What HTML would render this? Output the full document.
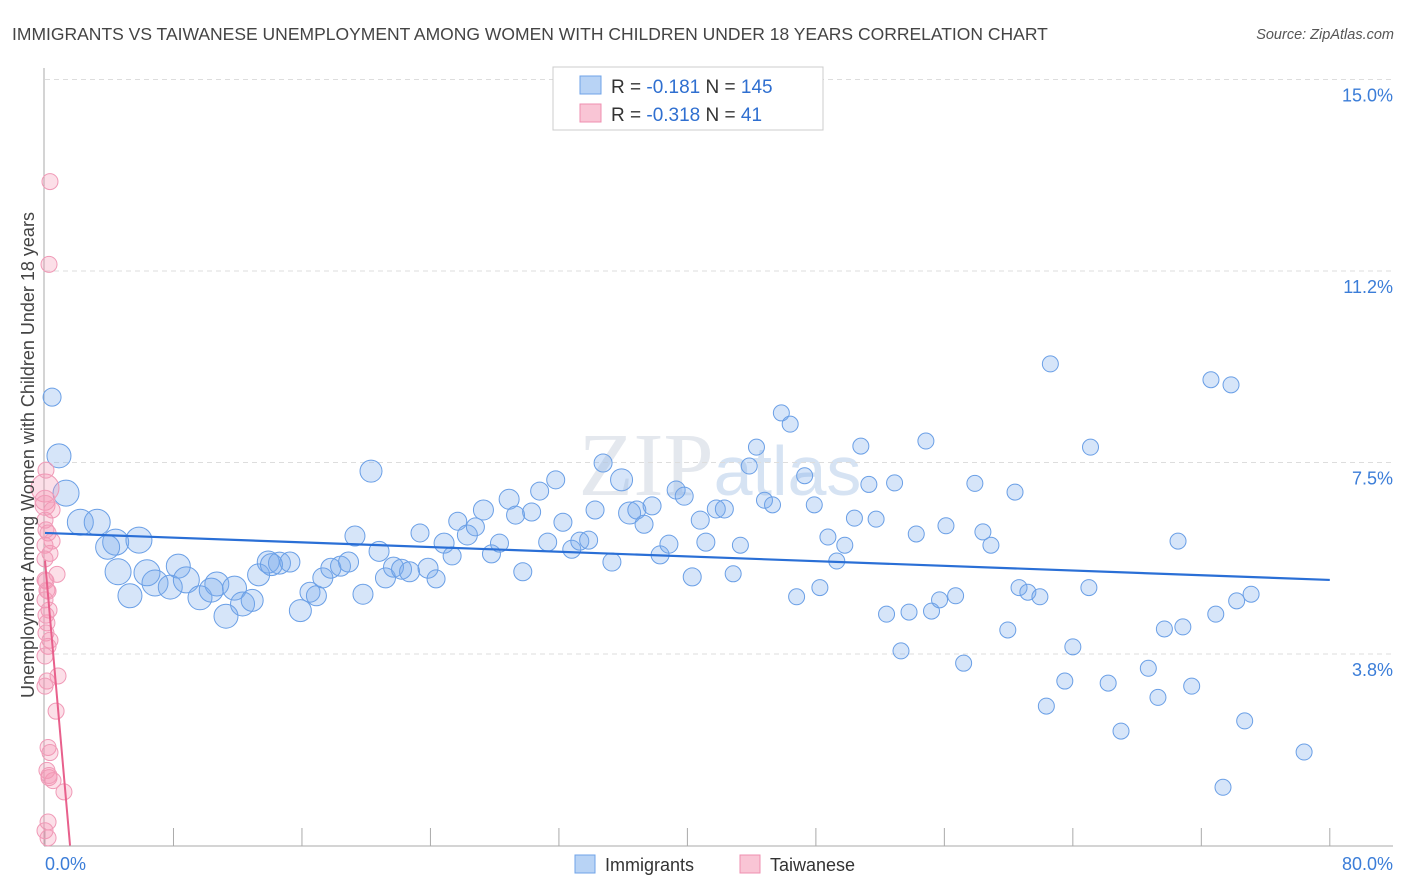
<!DOCTYPE html>
<html><head><meta charset="utf-8">
<style>
body{margin:0;background:#fff;font-family:"Liberation Sans",sans-serif;}
svg{display:block}
</style></head>
<body>
<svg id="chart" width="1406" height="892">
<text x="12" y="40" font-size="17.5" fill="#444">IMMIGRANTS VS TAIWANESE UNEMPLOYMENT AMONG WOMEN WITH CHILDREN UNDER 18 YEARS CORRELATION CHART</text>
<text x="1394" y="39" font-size="14.5" fill="#555" font-style="italic" text-anchor="end">Source: ZipAtlas.com</text>
<text x="720" y="495" font-size="90" fill="#e4e8ee" text-anchor="middle" font-family="Liberation Serif,serif">ZIP<tspan fill="#d6e3f3" font-family="Liberation Sans,sans-serif" font-size="70">atlas</tspan></text>
<g id="grid"></g>
<g id="axes"></g>
<g id="marks"></g>
<text transform="translate(34,455) rotate(-90)" font-size="18" fill="#444" text-anchor="middle">Unemployment Among Women with Children Under 18 years</text>
<g>
<rect x="553" y="67" width="270" height="63" fill="#fff" stroke="#ccc"/>
<rect x="580" y="76" width="21" height="18" fill="#b8d3f5" stroke="#6fa3e8"/>
<rect x="580" y="104" width="21" height="18" fill="#f9c5d5" stroke="#ef8fb0"/>
<text x="611" y="93" font-size="19" fill="#333">R = <tspan fill="#2f6fd0">-0.181</tspan>   N = <tspan fill="#2f6fd0">145</tspan></text>
<text x="611" y="121" font-size="19" fill="#333">R = <tspan fill="#2f6fd0">-0.318</tspan>   N =   <tspan fill="#2f6fd0"> 41</tspan></text>
</g>
<g>
<rect x="575" y="855" width="20" height="18" fill="#b8d3f5" stroke="#6fa3e8"/>
<text x="605" y="871" font-size="18" fill="#333">Immigrants</text>
<rect x="740" y="855" width="20" height="18" fill="#f9c5d5" stroke="#ef8fb0"/>
<text x="770" y="871" font-size="18" fill="#333">Taiwanese</text>
</g>
</svg>
<script>
const yTicks=[3.75,7.5,11.25,15];
const yTickLabels=["3.8%","7.5%","11.2%","15.0%"];
const xTicks=[0,8,16,24,32,40,48,56,64,72,80];
const xEndLabels=["0.0%","80.0%"];
const blueX=[0.44,0.87,1.31,2.2,3.25,4.4,3.9,5.85,4.55,5.29,6.35,6.85,7.8,8.3,8.8,9.65,10.7,10.35,11.27,11.8,12.3,12.9,13.3,13.9,14.6,15.25,14.1,15.9,16.5,16.9,17.3,17.8,18.4,18.9,19.3,19.8,20.3,20.8,21.2,21.7,22.2,22.7,23.35,23.85,24.35,24.85,25.35,25.7,26.3,26.8,27.3,27.8,28.3,28.9,29.3,29.75,30.3,30.8,31.3,31.8,32.25,32.8,33.3,33.85,34.25,34.75,35.3,35.9,36.4,36.85,37.3,37.8,38.3,38.85,39.3,39.8,40.3,40.8,41.15,41.8,42.3,42.85,43.3,43.85,44.3,44.8,45.3,45.85,46.4,46.8,47.3,47.9,48.25,48.75,49.3,49.8,50.4,50.8,51.3,51.75,52.4,52.9,53.3,53.8,54.25,54.85,55.2,55.7,56.1,56.7,57.2,57.9,58.4,58.9,59.95,60.4,60.65,61.2,61.95,62.35,62.6,63.5,64.0,65.0,65.1,66.2,67.0,68.7,69.3,69.7,70.55,70.85,71.4,72.6,72.9,73.35,73.85,74.2,74.7,75.1,78.4];
const blueY=[8.78,7.63,6.9,6.33,6.33,5.94,5.84,5.98,5.36,4.89,5.34,5.14,5.06,5.47,5.2,4.85,5.12,5.0,4.49,5.04,4.73,4.8,5.3,5.55,5.53,5.55,5.5,4.6,4.96,4.89,5.24,5.43,5.47,5.55,6.06,4.92,7.33,5.76,5.24,5.45,5.41,5.36,6.12,5.43,5.22,5.92,5.67,6.35,6.08,6.24,6.57,5.71,5.92,6.78,6.47,5.36,6.53,6.94,5.94,7.16,6.33,5.8,5.96,5.98,6.57,7.49,5.55,7.16,6.51,6.57,6.29,6.65,5.69,5.9,6.96,6.84,5.26,6.37,5.94,6.59,6.59,5.32,5.88,7.43,7.8,6.76,6.67,8.47,8.25,4.87,7.24,6.67,5.05,6.04,5.57,5.88,6.41,7.82,7.07,6.39,4.53,7.1,3.81,4.57,6.1,7.92,4.59,4.81,6.26,4.89,3.57,7.09,6.14,5.88,4.22,6.92,5.05,4.96,4.87,2.73,9.43,3.22,3.89,5.05,7.8,3.18,2.24,3.47,2.9,4.24,5.96,4.28,3.12,9.12,4.53,1.14,9.02,4.79,2.44,4.92,1.83];
const blueR=[9,12,13,13,13,13,12,13,13,12,13,13,12,12,13,12,12,12,12,12,12,11,11,11,11,10,11,11,10,10,10,10,10,10,10,10,11,10,10,10,10,10,9,10,9,10,9,9,10,9,10,9,9,10,9,9,9,9,9,9,9,9,9,9,9,9,9,11,11,9,9,9,9,9,9,9,9,9,9,9,9,8,8,8,8,8,8,8,8,8,8,8,8,8,8,8,8,8,8,8,8,8,8,8,8,8,8,8,8,8,8,8,8,8,8,8,8,8,8,8,8,8,8,8,8,8,8,8,8,8,8,8,8,8,8,8,8,8,8,8,8];
const pinkX=[0.31,0.25,0,0,0.06,0.19,0,0.31,0.44,0.75,0.06,0.12,0,0.25,0.12,0.06,0.31,0.19,0.81,0.12,0.69,0.19,0.31,0.25,0.5,1.18,0.19,0.19,0,0,0.06,0,0,0.12,0,0,0.44,0,0.06,0.19,0.25];
const pinkY=[13.0,11.38,7.0,6.76,6.18,6.12,5.88,5.72,5.96,5.31,5.18,5.0,4.81,4.61,4.36,4.16,4.02,3.9,3.32,3.22,2.63,1.92,1.82,1.33,1.27,1.05,0.46,0.15,6.37,5.61,4.51,3.71,3.12,1.47,0.29,6.66,6.57,5.2,7.35,4.98,1.37];
const pinkR=[8,8,14,10,8,8,8,8,8,8,8,8,8,8,8,8,8,8,8,8,8,8,8,8,8,8,8,8,8,8,8,8,8,8,8,10,8,8,8,8,8];
const blueTrend=[6.12,5.2];
const pinkTrend=[5.58,-3.58];
const X=v=>45+v*16.06;
const Y=v=>845.5-v*51.07;
const NS="http://www.w3.org/2000/svg";
function mk(tag,attrs,parent){const e=document.createElementNS(NS,tag);for(const k in attrs)e.setAttribute(k,attrs[k]);document.getElementById(parent).appendChild(e);return e;}
yTicks.forEach((t,i)=>{
 const l=mk('line',{x1:45,x2:1393,y1:Y(t),y2:Y(t),stroke:'#ddd','stroke-dasharray':'5,4'},'grid');
 
 
 const tx=mk('text',{x:1393,y:Y(t)+22,'font-size':18,fill:'#3b7dd8','text-anchor':'end'},'grid');
 tx.textContent=yTickLabels[i];
 
 
});
const ya=mk('line',{x1:44,x2:44,y1:68,y2:846,stroke:'#aaa'},'axes');


const xa=mk('line',{x1:44,x2:1393,y1:846,y2:846,stroke:'#aaa'},'axes');


xTicks.forEach(t=>{
 const l=mk('line',{x1:X(t),x2:X(t),y1:828,y2:846,stroke:'#aaa'},'axes');
 
 
});
const xl0=mk('text',{x:45,y:870,'font-size':18,fill:'#3b7dd8'},'axes');
xl0.textContent=xEndLabels[0];


const xl1=mk('text',{x:1393,y:870,'font-size':18,fill:'#3b7dd8','text-anchor':'end'},'axes');
xl1.textContent=xEndLabels[1];


blueX.forEach((v,i)=>{
 const c=mk('circle',{cx:X(v),cy:Y(blueY[i]),r:blueR[i],fill:'rgba(120,170,235,0.3)',stroke:'#6a9fe6','stroke-width':1},'marks');
 
 
});
pinkX.forEach((v,i)=>{
 const c=mk('circle',{cx:X(v),cy:Y(pinkY[i]),r:pinkR[i],fill:'rgba(244,150,180,0.3)',stroke:'#f09ab7','stroke-width':1},'marks');
 
 
});
const bt=mk('line',{x1:X(0),y1:Y(blueTrend[0]),x2:X(80),y2:Y(blueTrend[1]),stroke:'#2a6fd6','stroke-width':2.2},'marks');


const xEnd=-pinkTrend[0]/pinkTrend[1];
const pt=mk('line',{x1:X(0),y1:Y(pinkTrend[0]),x2:X(xEnd),y2:Y(0),stroke:'#e8608c','stroke-width':2},'marks');


</script>
</body></html>
